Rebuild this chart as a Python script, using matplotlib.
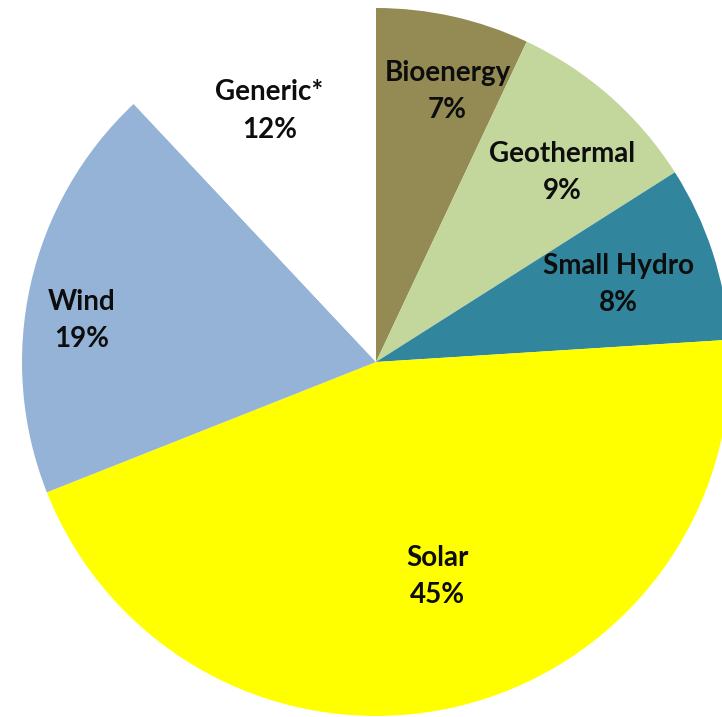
import numpy as np
import matplotlib.pyplot as plt

labels = ["Bioenergy", "Geothermal", "Small Hydro", "Solar", "Wind", "Generic*"]
shares = [7, 9, 8, 45, 19, 12]
colors = ["#948A54", "#C3D69B", "#31859C", "#FFFF00", "#95B3D7", "#FFFFFF"]

# label placement: fraction of radius, angle nudge (deg) from wedge middle
label_r = [0.79, 0.75, 0.72, 0.63, 0.84, 0.77]
label_dt = [-2.2, -3.1, -0.3, 3.4, 4.6, 1.4]

W, H = 722, 717
fig = plt.figure(figsize=(W / 100, H / 100), dpi=100)
ax = fig.add_axes([0, 0, 1, 1])

cx, cy, R = 376, H - 362, 354
wedges, _ = ax.pie(shares, colors=colors, startangle=90, counterclock=False,
                   center=(cx, cy), radius=R, frame=True,
                   wedgeprops=dict(linewidth=0))
ax.set_xlim(0, W)
ax.set_ylim(0, H)
ax.set_aspect("equal")
ax.axis("off")

for w, lab, v, rf, dt in zip(wedges, labels, shares, label_r, label_dt):
    th = np.deg2rad((w.theta1 + w.theta2) / 2 + dt)
    x = cx + rf * R * np.cos(th)
    y = cy + rf * R * np.sin(th)
    ax.text(x, y, f"{lab}\n{v}%", ha="center", va="center",
            fontsize=20, fontweight="bold", family="Lato",
            linespacing=1.55, color="#0d0d0d")

fig.savefig("out.png", dpi=100)
